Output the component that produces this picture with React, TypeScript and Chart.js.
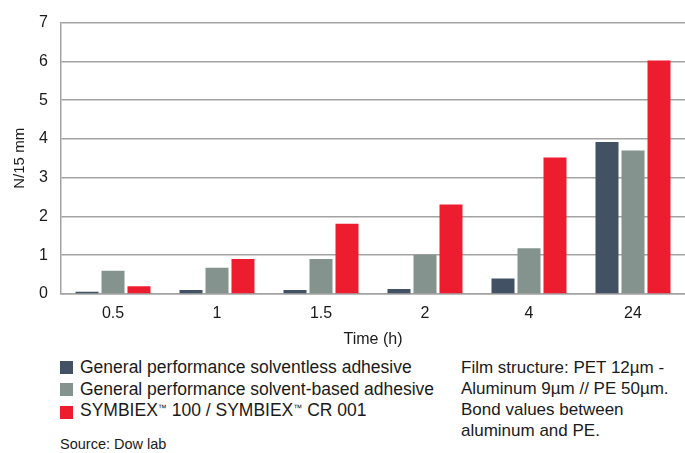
import React, { useEffect, useRef } from "react";
import { Chart, registerables } from "chart.js";

Chart.register(...registerables);

const categories = ["0.5", "1", "1.5", "2", "4", "24"];
const solventless = [0.06, 0.1, 0.1, 0.13, 0.4, 3.92];
const solventBased = [0.6, 0.68, 0.9, 1.01, 1.18, 3.7];
const symbiex = [0.2, 0.9, 1.81, 2.31, 3.52, 6.02];
const yTicks = [0, 1, 2, 3, 4, 5, 6, 7];

const seriesNames = [
  "General performance solventless adhesive",
  "General performance solvent-based adhesive",
  "SYMBIEX™ 100 / SYMBIEX™ CR 001",
];
const colors = ["#425264", "#84938e", "#ee1c2f"];

const FONT = "'Liberation Sans', Arial, Helvetica, sans-serif";

export default function App() {
  const canvasRef = useRef<HTMLCanvasElement | null>(null);

  useEffect(() => {
    if (!canvasRef.current) return;
    const chart = new Chart(canvasRef.current, {
      type: "bar",
      data: {
        labels: categories,
        datasets: [
          { label: seriesNames[0], data: solventless, backgroundColor: colors[0] },
          { label: seriesNames[1], data: solventBased, backgroundColor: colors[1] },
          { label: seriesNames[2], data: symbiex, backgroundColor: colors[2] },
        ],
      },
      options: {
        responsive: false,
        animation: false,
        devicePixelRatio: 1,
        layout: { padding: { top: 16, right: 0, left: 0, bottom: 0 } },
        datasets: { bar: { categoryPercentage: 0.75, barPercentage: 0.885 } },
        plugins: { legend: { display: false }, tooltip: { enabled: false } },
        scales: {
          x: {
            grid: { display: false, drawTicks: false },
            border: { display: true, color: "#a3a3a3", width: 1.5 },
            ticks: { color: "#1a1a1a", font: { family: FONT, size: 16 }, padding: 10 },
            title: {
              display: true,
              text: "Time (h)",
              color: "#1a1a1a",
              font: { family: FONT, size: 16 },
              padding: { top: 0, bottom: 1 },
            },
            afterFit: (axis: any) => {
              axis.height = 56;
            },
          },
          y: {
            min: 0,
            max: 7,
            afterBuildTicks: (axis: any) => {
              axis.ticks = yTicks.map((v) => ({ value: v }));
            },
            grid: { color: "#a3a3a3", lineWidth: 1.5, drawTicks: false },
            border: { display: true, color: "#a3a3a3", width: 1.5 },
            ticks: { color: "#1a1a1a", font: { family: FONT, size: 16 }, padding: 13 },
            title: {
              display: true,
              text: "N/15 mm",
              color: "#1a1a1a",
              font: { family: FONT, size: 15 },
              padding: { top: 11, bottom: 0 },
            },
            afterFit: (axis: any) => {
              axis.width = 61;
            },
          },
        },
      },
    });
    return () => chart.destroy();
  }, []);

  const rowTops = [360.5, 383, 405.5];

  return (
    <div
      style={{
        position: "fixed",
        left: 0,
        top: 0,
        width: 685,
        height: 453,
        background: "#ffffff",
        fontFamily: FONT,
        color: "#1a1a1a",
        overflow: "hidden",
      }}
    >
      <canvas ref={canvasRef} width={685} height={350} style={{ position: "absolute", left: 0, top: 0 }} />
      {seriesNames.map((name, i) => (
        <div key={name} style={{ position: "absolute", left: 60, top: rowTops[i], height: 13, display: "flex", alignItems: "center", whiteSpace: "nowrap" }}>
          <div style={{ width: 13, height: 13, background: colors[i], flex: "none" }} />
          <div style={{ marginLeft: 7, fontSize: 17.5, lineHeight: "13px" }}>
            {name.split("™").map((part, j, arr) => (
              <React.Fragment key={j}>
                {part}
                {j < arr.length - 1 ? (
                  <span style={{ fontSize: 9, position: "relative", top: -5 }}>™</span>
                ) : null}
              </React.Fragment>
            ))}
          </div>
        </div>
      ))}
      <div style={{ position: "absolute", left: 461, top: 356.5, fontSize: 17, lineHeight: "21px", whiteSpace: "nowrap" }}>
        Film structure: PET 12µm -<br />
        Aluminum 9µm // PE 50µm.<br />
        Bond values between<br />
        aluminum and PE.
      </div>
      <div style={{ position: "absolute", left: 60, top: 435, fontSize: 14.5, lineHeight: "18px", whiteSpace: "nowrap" }}>
        Source: Dow lab
      </div>
    </div>
  );
}
